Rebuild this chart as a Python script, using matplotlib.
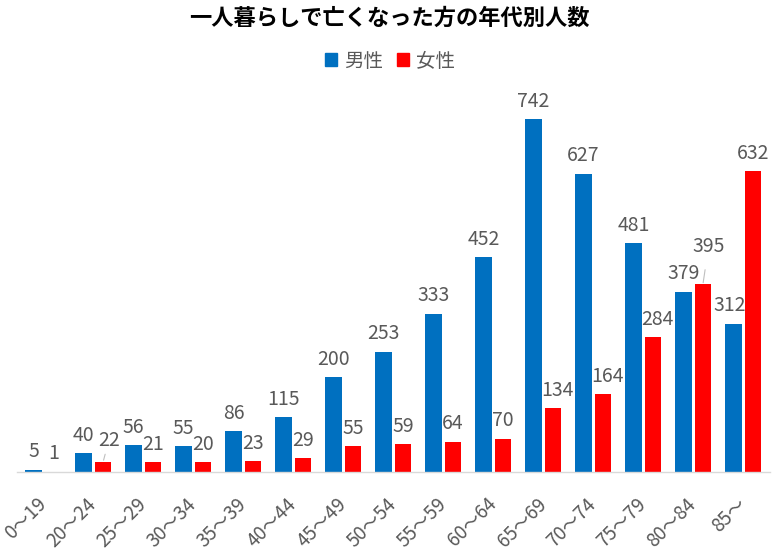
import numpy as np
import matplotlib.pyplot as plt
from matplotlib.patches import Patch

plt.rcParams['font.family'] = ['Noto Sans CJK JP', 'DejaVu Sans']

# data
age_groups = ['0～19', '20～24', '25～29', '30～34', '35～39', '40～44', '45～49',
              '50～54', '55～59', '60～64', '65～69', '70～74', '75～79', '80～84', '85～']
male = [5, 40, 56, 55, 86, 115, 200, 253, 333, 452, 742, 627, 481, 379, 312]
female = [1, 22, 21, 20, 23, 29, 55, 59, 64, 70, 134, 164, 284, 395, 632]

BLUE = '#0070C0'
RED = '#FF0000'
GRAY = '#595959'

# label offsets (points) where the labels were nudged in the original
male_shift = {14: (-3, 0)}
female_shift = {1: (4, 2), 10: (3, 0), 11: (3, 0), 12: (3, 0), 13: (4, 14)}
female_leader = {1, 13}


def main():
    fig = plt.figure(figsize=(7.72, 5.57), dpi=100)
    ax = fig.add_axes([0.022, 0.1526, 0.975, 0.6834])

    x = np.arange(len(age_groups))
    w = 0.33
    off = 0.195
    bm = ax.bar(x - off, male, width=w, color=BLUE)
    bf = ax.bar(x + off, female, width=w, color=RED)

    for i, (b, v) in enumerate(zip(bm, male)):
        dx, dy = male_shift.get(i, (0, 0))
        ax.annotate(str(v), (b.get_x() + b.get_width() / 2, v),
                    xytext=(dx, 12.8 + dy), textcoords='offset points',
                    ha='center', va='center', fontsize=14, color=GRAY)
    for i, (b, v) in enumerate(zip(bf, female)):
        dx, dy = female_shift.get(i, (0, 0))
        arrow = None
        if i in female_leader:
            arrow = dict(arrowstyle='-', color='#BFBFBF', lw=0.8,
                         shrinkA=7, shrinkB=1)
        ax.annotate(str(v), (b.get_x() + b.get_width() / 2, v),
                    xytext=(dx, 12.8 + dy), textcoords='offset points',
                    ha='center', va='center', fontsize=14, color=GRAY,
                    arrowprops=arrow)

    ax.set_xlim(-0.53, len(age_groups) - 0.47)
    ax.set_ylim(0, 800)
    ax.set_xticks(x)
    ax.set_xticklabels(age_groups, rotation=45, ha='right', va='center',
                       rotation_mode='anchor', fontsize=13.5, color=GRAY)
    ax.tick_params(axis='x', length=0, pad=21)
    ax.set_yticks([])
    for s in ['top', 'right', 'left']:
        ax.spines[s].set_visible(False)
    ax.spines['bottom'].set_color('#D9D9D9')
    ax.spines['bottom'].set_linewidth(1)

    fig.text(0.505, 0.968, '一人暮らしで亡くなった方の年代別人数', ha='center', va='center',
             fontsize=16, fontweight='bold', color='black')

    handles = [Patch(color=BLUE, label='男性'), Patch(color=RED, label='女性')]
    leg = fig.legend(handles=handles, loc='center', bbox_to_anchor=(0.505, 0.89),
                     ncol=2, frameon=False, fontsize=14, handlelength=0.65,
                     handleheight=0.65, handletextpad=0.35, columnspacing=0.7)
    for t in leg.get_texts():
        t.set_color(GRAY)

    plt.savefig('out.png', dpi=100)


if __name__ == '__main__':
    main()
